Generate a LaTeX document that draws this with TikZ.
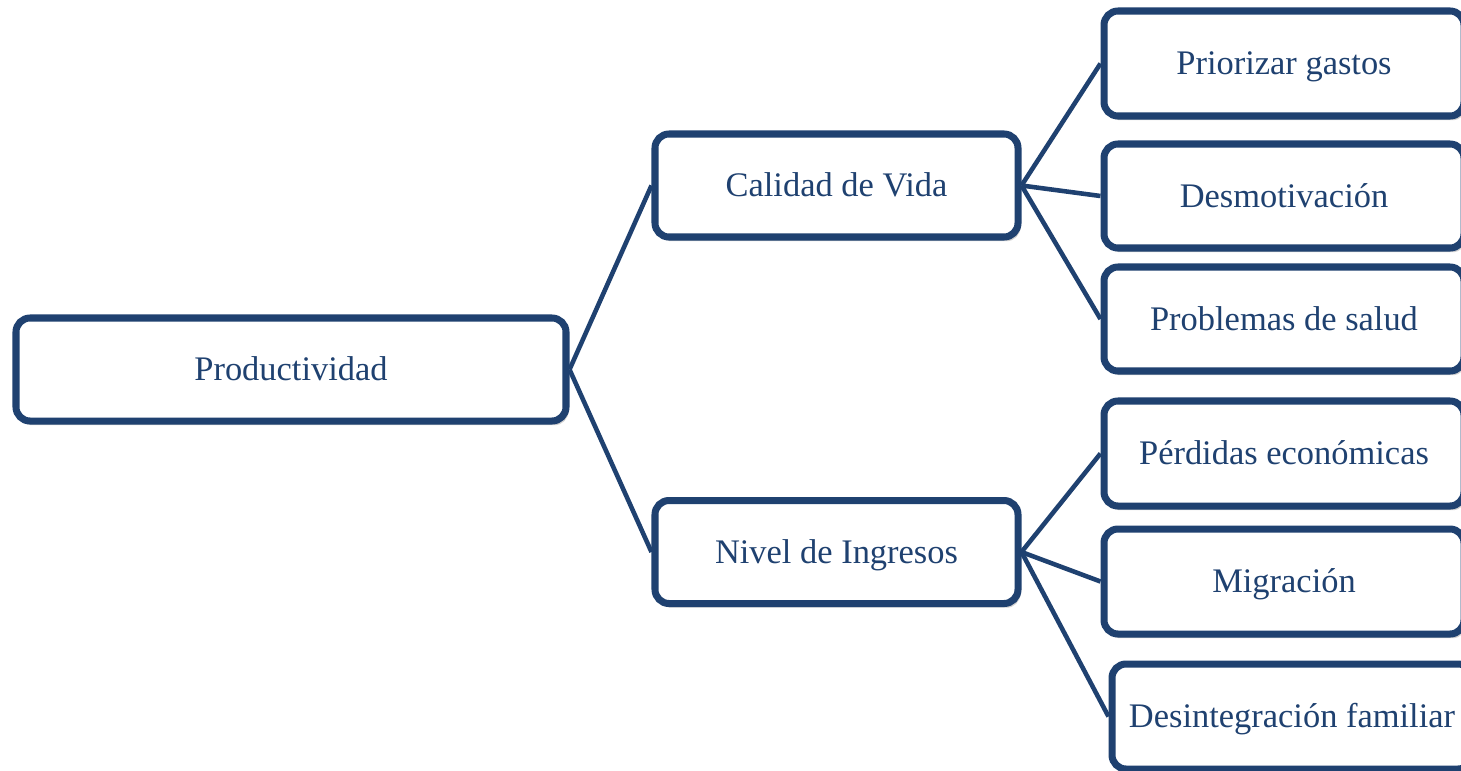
\documentclass[tikz,border=0pt]{standalone}
\usepackage{fontspec}
\setmainfont{Liberation Serif}
\usetikzlibrary{shadows}
\definecolor{azul}{RGB}{31,65,112}

\begin{document}
\begin{tikzpicture}[
	caja/.style={draw=azul, line width=2pt, rounded corners=0.14cm, fill=white,
		text=azul, font=\fontsize{9.8}{12}\selectfont, text height=0.9em, text depth=0.26em,
		drop shadow={shadow xshift=0.7pt, shadow yshift=-1.2pt, opacity=0.3, fill=black!60},
		minimum height=1.03cm, inner sep=0pt},
	enlace/.style={draw=azul, line width=1.3pt}]
	\useasboundingbox (0,0) rectangle (14.61,-7.70);
	\node[caja, minimum width=5.50cm] (prod) at (2.91,-3.695) {Productividad};
	\node[caja, minimum width=3.63cm] (vida) at (8.365,-1.855) {Calidad de Vida};
	\node[caja, minimum width=3.63cm] (ingresos) at (8.365,-5.52) {Nivel de Ingresos};
	\node[caja, minimum width=3.60cm, minimum height=1.05cm] (gastos) at (12.84,-0.635) {Priorizar gastos};
	\node[caja, minimum width=3.60cm, minimum height=1.04cm] (desmot) at (12.84,-1.96) {Desmotivación};
	\node[caja, minimum width=3.60cm, minimum height=1.04cm] (salud) at (12.84,-3.19) {Problemas de salud};
	\node[caja, minimum width=3.60cm, minimum height=1.05cm] (perdidas) at (12.84,-4.535) {Pérdidas económicas};
	\node[caja, minimum width=3.60cm, minimum height=1.05cm] (migra) at (12.84,-5.815) {Migración};
	\node[caja, minimum width=3.60cm, minimum height=1.05cm] (familia) at (12.92,-7.165) {Desintegración familiar};
	\draw[enlace] (prod.east)--(vida.west);
	\draw[enlace] (prod.east)--(ingresos.west);
	\draw[enlace] (vida.east)--(gastos.west);
	\draw[enlace] (vida.east)--(desmot.west);
	\draw[enlace] (vida.east)--(salud.west);
	\draw[enlace] (ingresos.east)--(perdidas.west);
	\draw[enlace] (ingresos.east)--(migra.west);
	\draw[enlace] (ingresos.east)--(familia.west);
\end{tikzpicture}
\end{document}
